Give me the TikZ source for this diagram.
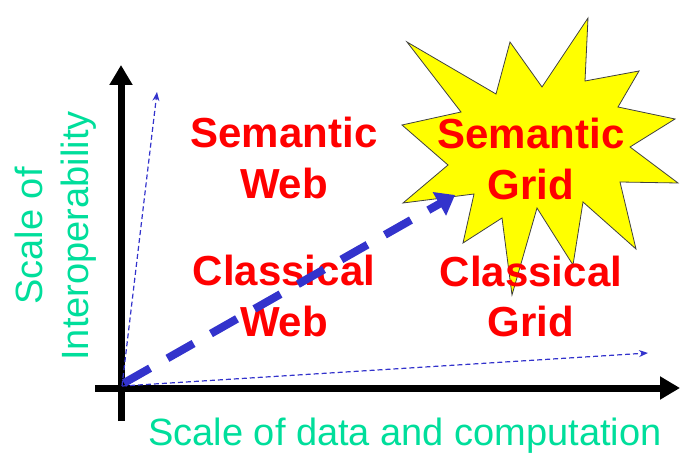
\documentclass[tikz,border=0pt]{standalone}
\usepackage{fontspec}
\setmainfont{Liberation Sans}
\usetikzlibrary{arrows.meta}
\definecolor{gridred}{RGB}{255,0,0}
\definecolor{scaleteal}{RGB}{0,222,155}
\definecolor{trendblue}{RGB}{51,51,204}
\definecolor{burstyellow}{RGB}{255,255,0}
\begin{document}
\begin{tikzpicture}[x=1pt,y=-1pt,
  axis/.style={line width=7pt,-{Triangle[width=22pt,length=20pt]}},
  quad/.style={text=gridred,font=\fontsize{42}{51}\selectfont\bfseries,align=center,anchor=base},
  scalelabel/.style={text=scaleteal,font=\fontsize{38}{46}\selectfont,align=center,anchor=base},
  guide/.style={draw=trendblue,line width=1.2pt,dash pattern=on 5pt off 3pt,-{Stealth[length=9pt,width=7pt]}},
  trend/.style={draw=trendblue,line width=8pt,dash pattern=on 30pt off 20pt,-{Triangle[width=26pt,length=18pt]}}]
\useasboundingbox (0,0) rectangle (680,454);
% axes
\coordinate (origin) at (122,386);
\coordinate (ybase) at (121,421);
\coordinate (ytip) at (121,65);
\coordinate (xbase) at (95,388);
\coordinate (xtip) at (680,388);
\coordinate (upguide) at (157,92);
\coordinate (rightguide) at (648,353);
\coordinate (trendtip) at (455,195);
% the burst
\draw[fill=burstyellow,draw=black!75,line width=0.8pt] plot coordinates {
  (407,42) (496,94) (510,42) (542,87) (588,18) (585,81) (639,71) (618,107)
  (675,119) (630,147) (678,183) (620,182) (636,249) (583,202) (573,265) (537,208)
  (512,295) (502,218) (463,243) (474,194) (403,203) (448,165) (402,125) (461,112)} -- cycle;
\draw[axis] (ybase) -- (ytip);
\draw[axis] (xbase) -- (xtip);
\draw[guide] (origin) -- (upguide);
\draw[guide] (origin) -- (rightguide);
% base anchor sits on the last line
\node[quad] (semweb) at (284,199) {Semantic\\Web};
\node[quad] (semgrid) at (531,200) {Semantic\\Grid};
\node[quad] (classweb) at (284,336) {Classical\\Web};
\node[quad] (classgrid) at (531,337) {Classical\\Grid};
\node[scalelabel] (xlabel) at (405,445) {Scale of data and computation};
\node[scalelabel,rotate=90] (ylabel) at (88,236) {Scale of\\Interoperability};
\draw[trend] (124,383) -- (trendtip);
\end{tikzpicture}
\end{document}
